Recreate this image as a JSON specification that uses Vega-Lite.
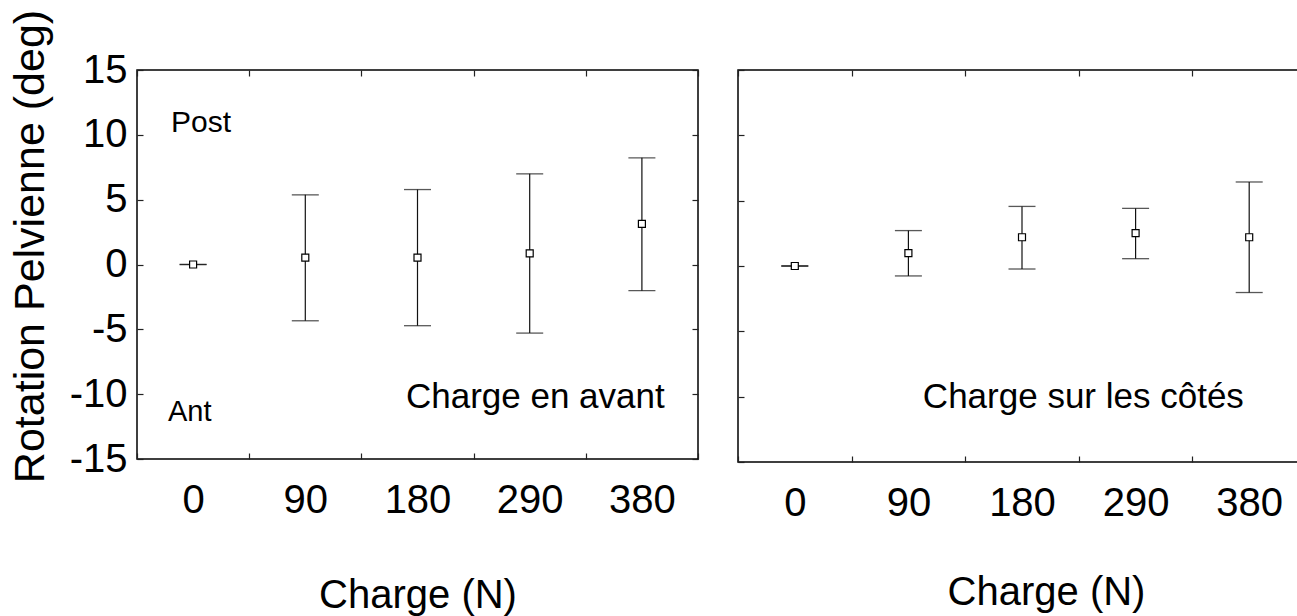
{
  "$schema": "https://vega.github.io/schema/vega-lite/v6.json",
  "background": "white",
  "padding": {"left": 8, "top": 8, "right": 0, "bottom": 0},
  "config": {
    "font": "Liberation Sans, Arial, sans-serif",
    "view": {"stroke": "#000000", "strokeWidth": 1.5},
    "axis": {
      "domain": false,
      "grid": false,
      "tickColor": "#222222",
      "tickWidth": 1.2,
      "tickSize": -6,
      "labelColor": "#000000",
      "titleColor": "#000000",
      "titleFontWeight": "normal",
      "labelOverlap": false
    }
  },
  "datasets": {
    "avant": [
      {"charge": "0", "mean": 0, "lo": 0, "hi": 0},
      {"charge": "90", "mean": 0.53, "lo": -4.34, "hi": 5.37},
      {"charge": "180", "mean": 0.53, "lo": -4.72, "hi": 5.78},
      {"charge": "290", "mean": 0.86, "lo": -5.29, "hi": 6.99},
      {"charge": "380", "mean": 3.13, "lo": -2.02, "hi": 8.23}
    ],
    "cotes": [
      {"charge": "0", "mean": 0, "lo": 0, "hi": 0},
      {"charge": "90", "mean": 0.99, "lo": -0.76, "hi": 2.71},
      {"charge": "180", "mean": 2.2, "lo": -0.23, "hi": 4.56},
      {"charge": "290", "mean": 2.51, "lo": 0.56, "hi": 4.41},
      {"charge": "380", "mean": 2.2, "lo": -2.03, "hi": 6.43}
    ]
  },
  "spacing": 36,
  "hconcat": [
    {
      "width": 561,
      "height": 389,
      "data": {"name": "avant"},
      "resolve": {"axis": {"x": "independent", "y": "independent"}},
      "layer": [
        {
          "mark": {"type": "rule", "color": "#111111", "strokeWidth": 1.2},
          "encoding": {
            "x": {
              "field": "charge", "type": "ordinal", "sort": null,
              "scale": {"domain": ["0", "90", "180", "290", "380"], "paddingInner": 0, "paddingOuter": 0},
              "axis": {"orient": "bottom", "title": "Charge (N)", "tickBand": "extent", "labelAngle": 0,
                       "labelFontSize": 40, "labelPadding": 27, "titleFontSize": 40, "titlePadding": 55}
            },
            "y": {
              "field": "lo", "type": "quantitative",
              "scale": {"domain": [-15, 15], "nice": false, "zero": false},
              "axis": {"orient": "left", "title": "Rotation Pelvienne (deg)", "values": [-15, -10, -5, 0, 5, 10, 15],
                       "labelExpr": "'' + datum.value",
                       "labelFontSize": 40, "labelPadding": 16, "titleFontSize": 43, "titlePadding": 17, "titleY": 176}
            },
            "y2": {"field": "hi"}
          }
        },
        {
          "mark": {"type": "tick", "orient": "horizontal", "color": "#111111", "size": 27, "thickness": 1.3},
          "encoding": {
            "x": {"field": "charge", "type": "ordinal", "sort": null,
                  "scale": {"domain": ["0", "90", "180", "290", "380"], "paddingInner": 0, "paddingOuter": 0}, "axis": null},
            "y": {"field": "lo", "type": "quantitative", "scale": {"domain": [-15, 15], "nice": false, "zero": false}, "axis": null}
          }
        },
        {
          "mark": {"type": "tick", "orient": "horizontal", "color": "#111111", "size": 27, "thickness": 1.3},
          "encoding": {
            "x": {"field": "charge", "type": "ordinal", "sort": null,
                  "scale": {"domain": ["0", "90", "180", "290", "380"], "paddingInner": 0, "paddingOuter": 0}, "axis": null},
            "y": {"field": "hi", "type": "quantitative", "scale": {"domain": [-15, 15], "nice": false, "zero": false}, "axis": null}
          }
        },
        {
          "mark": {"type": "point", "shape": "square", "size": 49, "filled": true, "fill": "white", "stroke": "#000000", "strokeWidth": 1.2, "opacity": 1},
          "encoding": {
            "x": {"field": "charge", "type": "ordinal", "sort": null,
                  "scale": {"domain": ["0", "90", "180", "290", "380"], "paddingInner": 0, "paddingOuter": 0},
                  "axis": {"orient": "top", "labels": false, "title": null, "tickBand": "extent"}},
            "y": {"field": "mean", "type": "quantitative", "scale": {"domain": [-15, 15], "nice": false, "zero": false},
                  "axis": {"orient": "right", "labels": false, "title": null, "values": [-15, -10, -5, 0, 5, 10, 15]}}
          }
        },
        {
          "data": {"values": [{"label": "Post"}]},
          "mark": {"type": "text", "fontSize": 30, "align": "center", "baseline": "middle", "color": "#000000"},
          "encoding": {
            "x": {"datum": "0", "type": "ordinal", "bandPosition": 0.57,
                  "scale": {"domain": ["0", "90", "180", "290", "380"], "paddingInner": 0, "paddingOuter": 0}, "axis": null},
            "y": {"datum": 10.9, "type": "quantitative", "scale": {"domain": [-15, 15], "nice": false, "zero": false}, "axis": null},
            "text": {"field": "label"}
          }
        },
        {
          "data": {"values": [{"label": "Ant"}]},
          "mark": {"type": "text", "fontSize": 29, "align": "center", "baseline": "middle", "color": "#000000"},
          "encoding": {
            "x": {"datum": "0", "type": "ordinal", "bandPosition": 0.47,
                  "scale": {"domain": ["0", "90", "180", "290", "380"], "paddingInner": 0, "paddingOuter": 0}, "axis": null},
            "y": {"datum": -11.4, "type": "quantitative", "scale": {"domain": [-15, 15], "nice": false, "zero": false}, "axis": null},
            "text": {"field": "label"}
          }
        },
        {
          "data": {"values": [{"label": "Charge en avant"}]},
          "mark": {"type": "text", "fontSize": 35, "align": "center", "baseline": "middle", "color": "#000000"},
          "encoding": {
            "x": {"datum": "290", "type": "ordinal", "bandPosition": 0.55,
                  "scale": {"domain": ["0", "90", "180", "290", "380"], "paddingInner": 0, "paddingOuter": 0}, "axis": null},
            "y": {"datum": -10.2, "type": "quantitative", "scale": {"domain": [-15, 15], "nice": false, "zero": false}, "axis": null},
            "text": {"field": "label"}
          }
        }
      ]
    },
    {
      "width": 568,
      "height": 392,
      "data": {"name": "cotes"},
      "resolve": {"axis": {"x": "independent", "y": "independent"}},
      "layer": [
        {
          "mark": {"type": "rule", "color": "#111111", "strokeWidth": 1.2},
          "encoding": {
            "x": {
              "field": "charge", "type": "ordinal", "sort": null,
              "scale": {"domain": ["0", "90", "180", "290", "380"], "paddingInner": 0, "paddingOuter": 0},
              "axis": {"orient": "bottom", "title": "Charge (N)", "tickBand": "extent", "labelAngle": 0,
                       "labelFontSize": 40, "labelPadding": 27, "titleFontSize": 40, "titlePadding": 49, "titleX": 308}
            },
            "y": {
              "field": "lo", "type": "quantitative",
              "scale": {"domain": [-15, 15], "nice": false, "zero": false},
              "axis": {"orient": "left", "labels": false, "title": null, "values": [-15, -10, -5, 0, 5, 10, 15]}
            },
            "y2": {"field": "hi"}
          }
        },
        {
          "mark": {"type": "tick", "orient": "horizontal", "color": "#111111", "size": 27, "thickness": 1.3},
          "encoding": {
            "x": {"field": "charge", "type": "ordinal", "sort": null,
                  "scale": {"domain": ["0", "90", "180", "290", "380"], "paddingInner": 0, "paddingOuter": 0}, "axis": null},
            "y": {"field": "lo", "type": "quantitative", "scale": {"domain": [-15, 15], "nice": false, "zero": false}, "axis": null}
          }
        },
        {
          "mark": {"type": "tick", "orient": "horizontal", "color": "#111111", "size": 27, "thickness": 1.3},
          "encoding": {
            "x": {"field": "charge", "type": "ordinal", "sort": null,
                  "scale": {"domain": ["0", "90", "180", "290", "380"], "paddingInner": 0, "paddingOuter": 0}, "axis": null},
            "y": {"field": "hi", "type": "quantitative", "scale": {"domain": [-15, 15], "nice": false, "zero": false}, "axis": null}
          }
        },
        {
          "mark": {"type": "point", "shape": "square", "size": 49, "filled": true, "fill": "white", "stroke": "#000000", "strokeWidth": 1.2, "opacity": 1},
          "encoding": {
            "x": {"field": "charge", "type": "ordinal", "sort": null,
                  "scale": {"domain": ["0", "90", "180", "290", "380"], "paddingInner": 0, "paddingOuter": 0},
                  "axis": {"orient": "top", "labels": false, "title": null, "tickBand": "extent"}},
            "y": {"field": "mean", "type": "quantitative", "scale": {"domain": [-15, 15], "nice": false, "zero": false},
                  "axis": {"orient": "right", "labels": false, "title": null, "values": [-15, -10, -5, 0, 5, 10, 15]}}
          }
        },
        {
          "data": {"values": [{"label": "Charge sur les côtés"}]},
          "mark": {"type": "text", "fontSize": 35, "align": "center", "baseline": "middle", "color": "#000000"},
          "encoding": {
            "x": {"datum": "290", "type": "ordinal", "bandPosition": 0.04,
                  "scale": {"domain": ["0", "90", "180", "290", "380"], "paddingInner": 0, "paddingOuter": 0}, "axis": null},
            "y": {"datum": -10.0, "type": "quantitative", "scale": {"domain": [-15, 15], "nice": false, "zero": false}, "axis": null},
            "text": {"field": "label"}
          }
        }
      ]
    }
  ]
}
